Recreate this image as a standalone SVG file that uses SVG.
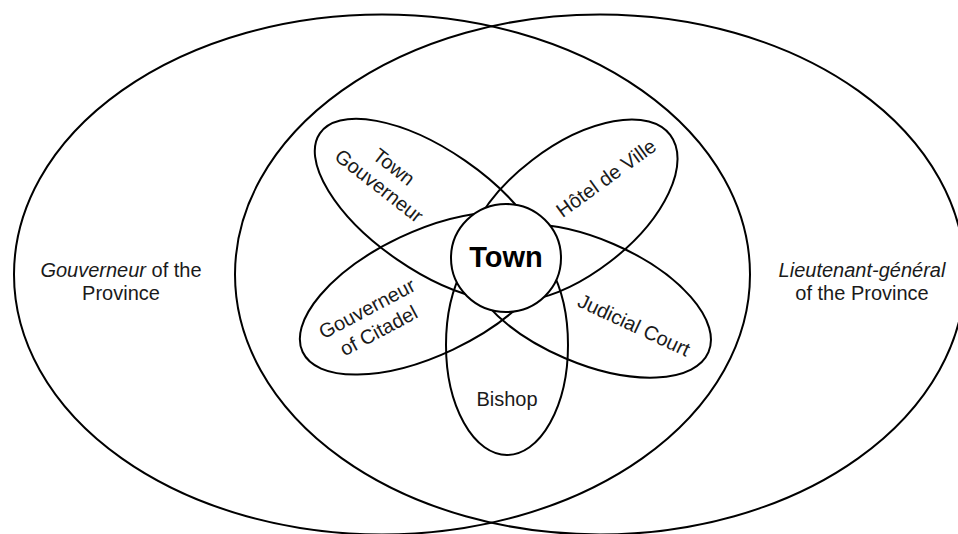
<svg xmlns="http://www.w3.org/2000/svg" width="958" height="534" viewBox="0 0 958 534">
<style>
  .shape { fill: none; stroke: #000; stroke-width: 2; }
  .town { fill: #fff; stroke: #000; stroke-width: 2; }
  .lbl { font-family: "Liberation Sans", Arial, sans-serif; font-size: 20px; fill: #1a1a1a; text-anchor: middle; }
  .it { font-style: italic; }
  .big { font-family: "Liberation Sans", Arial, sans-serif; font-size: 29px; font-weight: bold; fill: #000; text-anchor: middle; }
</style>
<rect width="958" height="534" fill="#fff"/>
<g id="province-gouverneur">
  <ellipse class="shape" cx="382" cy="274.5" rx="368" ry="260"/>
  <text class="lbl" x="121" y="277"><tspan class="it">Gouverneur</tspan> of the</text>
  <text class="lbl" x="121" y="300">Province</text>
</g>
<g id="lieutenant-general">
  <ellipse class="shape" cx="600" cy="274.5" rx="365" ry="260"/>
  <text class="lbl" x="862" y="277"><tspan class="it">Lieutenant-général</tspan></text>
  <text class="lbl" x="862" y="300">of the Province</text>
</g>
<g id="town-gouverneur">
  <ellipse class="shape" cx="0" cy="0" rx="135" ry="60" transform="translate(431 210) rotate(34.6)"/>
  <g transform="translate(386 177) rotate(38)">
    <text class="lbl" x="0" y="-6">Town</text>
    <text class="lbl" x="0" y="18">Gouverneur</text>
  </g>
</g>
<g id="hotel-de-ville">
  <ellipse class="shape" cx="0" cy="0" rx="125" ry="64" transform="translate(571 211) rotate(-37.5)"/>
  <text class="lbl" transform="translate(606 178) rotate(-36)" x="0" y="7">Hôtel de Ville</text>
</g>
<g id="gouverneur-of-citadel">
  <ellipse class="shape" cx="0" cy="0" rx="137" ry="62" transform="translate(426.5 293.5) rotate(-25.3)"/>
  <g transform="translate(373 320) rotate(-28)">
    <text class="lbl" x="0" y="-6">Gouverneur</text>
    <text class="lbl" x="0" y="19">of Citadel</text>
  </g>
</g>
<g id="judicial-court">
  <ellipse class="shape" cx="0" cy="0" rx="130" ry="62" transform="translate(589 301) rotate(23.2)"/>
  <text class="lbl" transform="translate(634 325) rotate(25)" x="0" y="7">Judicial Court</text>
</g>
<g id="bishop">
  <ellipse class="shape" cx="507" cy="345" rx="61" ry="110"/>
  <text class="lbl" x="507" y="406">Bishop</text>
</g>
<g id="town">
  <ellipse class="town" cx="506" cy="258" rx="55" ry="54"/>
  <text class="big" x="506" y="267">Town</text>
</g>
</svg>
